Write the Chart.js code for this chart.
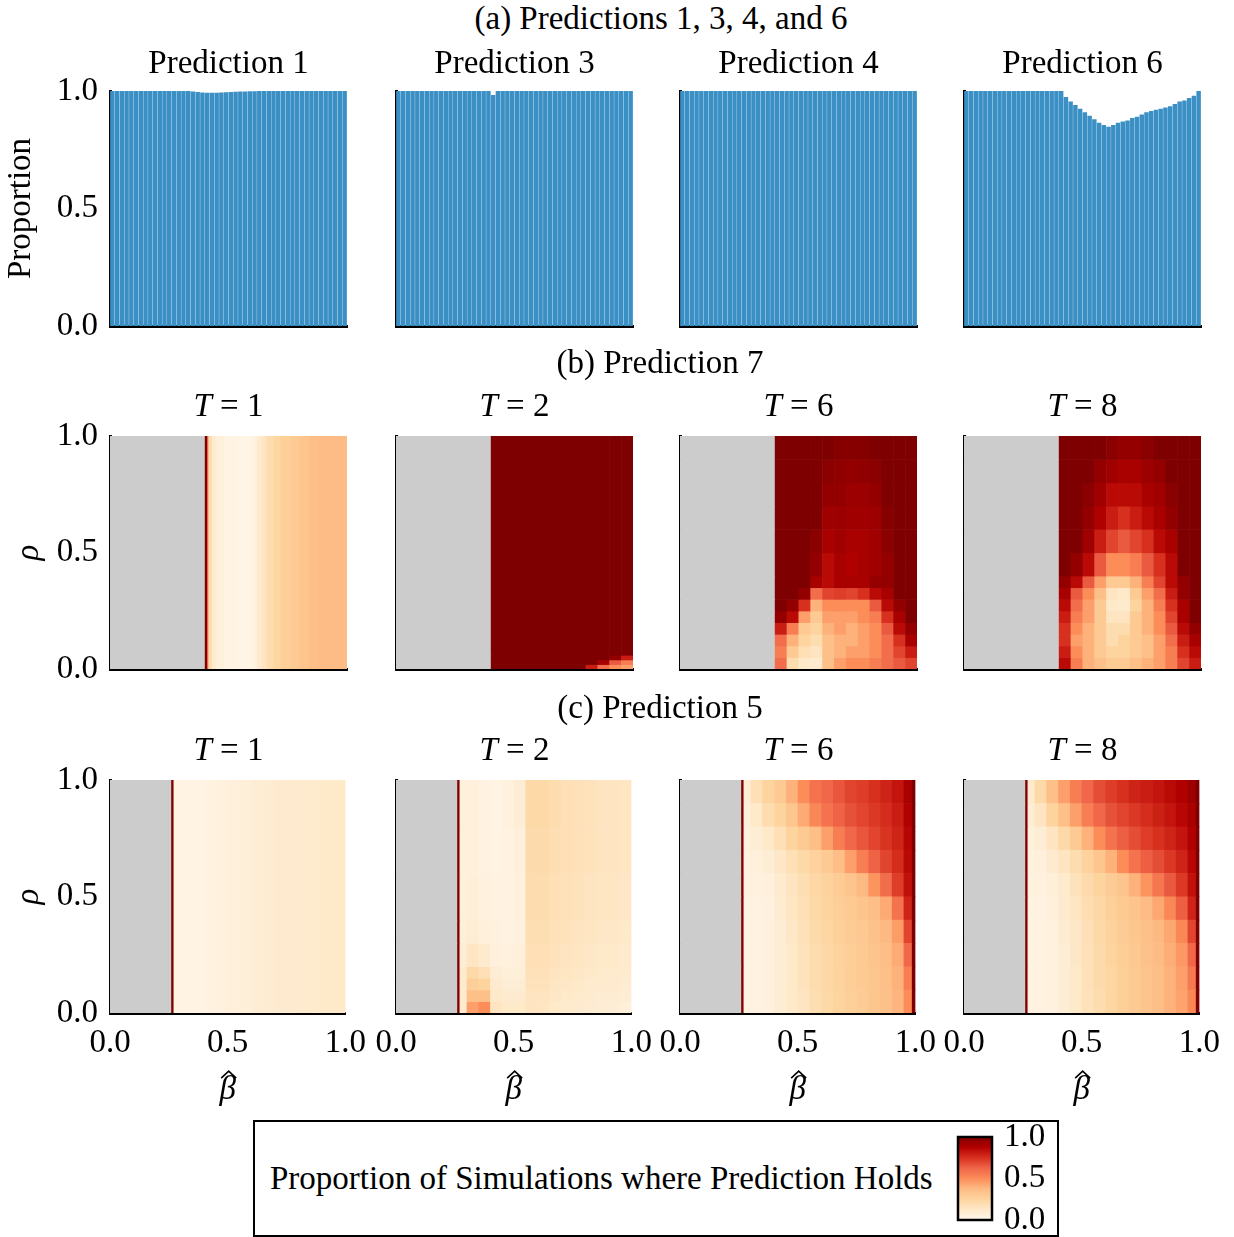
<!DOCTYPE html>
<html>
<head>
<meta charset="utf-8">
<script src="https://cdn.jsdelivr.net/npm/chart.js@4.4.1/dist/chart.umd.min.js"></script>
<style>
body{margin:0;background:#fff;width:1234px;height:1237px;overflow:hidden;position:relative;font-family:'Liberation Serif',serif;}
canvas{position:absolute;}
.lbl{position:absolute;font-size:33px;line-height:36px;white-space:nowrap;transform:translateX(-50%);color:#000;}
#legend{position:absolute;left:253px;top:1120px;width:802px;height:113px;border:2px solid #000;}
#legendText{position:absolute;left:270px;top:1160px;font-size:33px;line-height:36px;white-space:nowrap;}
</style>
</head>
<body>
<div id="legend"></div>
<div id="legendText">Proportion of Simulations where Prediction Holds</div>

<script>
// ---- data ----
// bar centres on beta-hat (row a)
const betaCenters = ['0.01','0.03','0.05','0.07','0.09','0.11','0.13','0.15','0.17','0.19',
  '0.21','0.23','0.25','0.27','0.29','0.31','0.33','0.35','0.37','0.39',
  '0.41','0.43','0.45','0.47','0.49','0.51','0.53','0.55','0.57','0.59',
  '0.61','0.63','0.65','0.67','0.69','0.71','0.73','0.75','0.77','0.79',
  '0.81','0.83','0.85','0.87','0.89','0.91','0.93','0.95','0.97','0.99'];

const pred1 = [1,1,1,1,1,1,1,1,1,1, 1,1,1,1,1,1,1,0.998,0.996,0.994,
  0.993,0.993,0.993,0.994,0.995,0.996,0.997,0.998,0.998,0.999,
  0.999,1,1,1,1,1,1,1,1,1, 1,1,1,1,1,1,1,1,1,1];
const pred3 = [1,1,1,1,1,1,1,1,1,1, 1,1,1,1,1,1,1,1,1,1,
  0.983,1,1,1,1,1,1,1,1,1, 1,1,1,1,1,1,1,1,1,1, 1,1,1,1,1,1,1,1,1,1];
const pred4 = [1,1,1,1,1,1,1,1,1,1, 1,1,1,1,1,1,1,1,1,1,
  1,1,1,1,1,1,1,1,1,1, 1,1,1,1,1,1,1,1,1,1, 1,1,1,1,1,1,1,1,1,1];
const pred6 = [1,1,1,1,1,1,1,1,1,1, 1,1,1,1,1,1,1,1,1,1,
  1,0.975,0.955,0.94,0.925,0.91,0.895,0.88,0.865,0.855,
  0.848,0.855,0.865,0.87,0.875,0.885,0.89,0.9,0.91,0.915,
  0.92,0.925,0.93,0.935,0.945,0.955,0.96,0.97,0.98,1.0];

// row b : Prediction 7  (null = not applicable, drawn grey)
const rhoAll = [0, 1];
const b1Beta = [0,0.40,0.41,0.415,0.43,0.45,0.48,0.54,0.60,0.62,0.64,0.66,0.69,0.72,0.76,0.80,0.84,0.88,1.0];
const b1Vals = [[null,1.0,0.6,0.2,0.09,0.06,0.03,0.02,0.05,0.1,0.15,0.2,0.24,0.27,0.3,0.33,0.36,0.37]];

const b2Beta = [0,0.40,0.80,0.85,0.90,0.95,1.0];
const b2Rho = [0,0.02,0.04,0.06,1.0];
const b2Vals = [
  [null,1,0.8,0.6,0.5,0.45],
  [null,1,1,0.9,0.65,0.55],
  [null,1,1,1,0.95,0.8],
  [null,1,1,1,1,1]];

const bBeta = [0,0.40,0.45,0.5,0.55,0.6,0.65,0.7,0.75,0.8,0.85,0.9,0.95,1.0];
const bRho = [0,0.05,0.1,0.15,0.2,0.25,0.3,0.35,0.4,0.5,0.6,0.7,0.8,0.9,1.0];
const b6Vals = [
  [null,0.6,0.2,0.12,0.1,0.35,0.45,0.5,0.5,0.55,0.6,0.65,0.7],
  [null,0.55,0.3,0.18,0.15,0.35,0.4,0.45,0.45,0.5,0.6,0.7,0.8],
  [null,0.6,0.4,0.25,0.2,0.35,0.4,0.4,0.45,0.5,0.6,0.75,0.9],
  [null,0.8,0.55,0.3,0.25,0.4,0.45,0.4,0.45,0.5,0.65,0.85,0.95],
  [null,0.95,0.85,0.45,0.3,0.45,0.45,0.45,0.5,0.55,0.75,0.9,1.0],
  [null,1.0,0.95,0.75,0.4,0.5,0.5,0.5,0.5,0.65,0.85,0.95,1.0],
  [null,1.0,1.0,0.95,0.6,0.7,0.72,0.7,0.75,0.85,0.9,1.0,1.0],
  [null,1.0,1.0,1.0,0.9,0.85,0.9,0.9,0.9,0.95,0.95,1.0,1.0],
  [null,1.0,1.0,1.0,0.95,0.85,0.9,0.88,0.9,0.92,0.95,1.0,1.0],
  [null,1.0,1.0,1.0,0.97,0.9,0.92,0.9,0.9,0.92,0.97,1.0,1.0],
  [null,1.0,1.0,1.0,1.0,0.92,0.93,0.92,0.92,0.93,0.98,1.0,1.0],
  [null,1.0,1.0,1.0,1.0,0.95,0.95,0.93,0.93,0.95,1.0,1.0,1.0],
  [null,1.0,1.0,1.0,1.0,0.97,0.96,0.95,0.96,0.97,1.0,1.0,1.0],
  [null,1.0,1.0,1.0,1.0,1.0,0.98,0.98,0.98,1.0,1.0,1.0,1.0]];
const b8Vals = [
  [null,0.85,0.55,0.4,0.35,0.3,0.3,0.35,0.4,0.45,0.55,0.7,0.8],
  [null,0.8,0.5,0.4,0.3,0.25,0.25,0.3,0.35,0.45,0.55,0.75,0.85],
  [null,0.75,0.45,0.4,0.3,0.2,0.25,0.3,0.35,0.45,0.6,0.8,0.9],
  [null,0.75,0.5,0.4,0.3,0.2,0.2,0.3,0.4,0.5,0.65,0.85,0.95],
  [null,0.8,0.55,0.45,0.3,0.15,0.15,0.3,0.4,0.5,0.7,0.9,1.0],
  [null,0.85,0.6,0.45,0.3,0.12,0.1,0.25,0.4,0.55,0.75,0.9,1.0],
  [null,0.9,0.65,0.5,0.35,0.15,0.12,0.3,0.45,0.6,0.8,0.95,1.0],
  [null,0.95,0.85,0.65,0.45,0.3,0.3,0.4,0.55,0.7,0.85,0.95,1.0],
  [null,1.0,0.95,0.85,0.65,0.5,0.5,0.55,0.65,0.75,0.85,1.0,1.0],
  [null,1.0,1.0,0.92,0.8,0.7,0.65,0.7,0.75,0.85,0.9,1.0,1.0],
  [null,1.0,1.0,0.95,0.88,0.8,0.75,0.8,0.85,0.9,0.95,1.0,1.0],
  [null,1.0,1.0,0.97,0.92,0.85,0.85,0.85,0.9,0.92,0.97,1.0,1.0],
  [null,1.0,1.0,1.0,0.95,0.92,0.9,0.9,0.93,0.95,1.0,1.0,1.0],
  [null,1.0,1.0,1.0,1.0,0.97,0.95,0.95,0.97,1.0,1.0,1.0,1.0]];

// row c : Prediction 5
const cBeta = [0,0.26,0.27,0.3,0.35,0.4,0.45,0.5,0.55,0.6,0.65,0.7,0.75,0.8,0.85,0.9,0.95,0.985,1.0];
const c1Vals = [[null,1,0.03,0.03,0.03,0.04,0.05,0.06,0.07,0.08,0.09,0.1,0.1,0.11,0.11,0.12,0.12,0.12]];

const c2Rho = [0,0.05,0.1,0.15,0.2,0.3,0.4,0.6,0.8,1.0];
const c2Vals = [
  [null,1,0.1,0.45,0.5,0.15,0.12,0.12,0.15,0.14,0.12,0.11,0.1,0.09,0.08,0.08,0.07,0.07],
  [null,1,0.1,0.35,0.35,0.12,0.1,0.1,0.15,0.15,0.13,0.12,0.11,0.1,0.09,0.09,0.08,0.08],
  [null,1,0.1,0.28,0.25,0.1,0.08,0.08,0.16,0.16,0.14,0.13,0.12,0.11,0.1,0.1,0.09,0.09],
  [null,1,0.1,0.22,0.18,0.08,0.07,0.07,0.17,0.17,0.15,0.14,0.13,0.12,0.11,0.11,0.1,0.1],
  [null,1,0.08,0.14,0.1,0.06,0.05,0.06,0.18,0.18,0.16,0.15,0.14,0.13,0.12,0.12,0.11,0.11],
  [null,1,0.07,0.08,0.06,0.05,0.04,0.05,0.19,0.19,0.17,0.16,0.15,0.14,0.13,0.13,0.12,0.12],
  [null,1,0.06,0.07,0.05,0.04,0.04,0.05,0.2,0.2,0.18,0.17,0.16,0.15,0.14,0.14,0.13,0.13],
  [null,1,0.06,0.06,0.04,0.03,0.04,0.06,0.21,0.21,0.19,0.18,0.17,0.16,0.15,0.15,0.14,0.14],
  [null,1,0.06,0.06,0.04,0.03,0.05,0.08,0.22,0.22,0.2,0.18,0.17,0.16,0.15,0.15,0.14,0.14]];

// rows listed from rho = 1 down to rho = 0
const cRho = [1.0,0.9,0.8,0.7,0.6,0.5,0.4,0.3,0.2,0.1,0];
const c6Vals = [
  [null,1,0.08,0.18,0.25,0.3,0.4,0.5,0.58,0.62,0.66,0.7,0.72,0.75,0.78,0.82,0.9,1.0],
  [null,1,0.07,0.12,0.2,0.25,0.32,0.42,0.52,0.58,0.63,0.67,0.7,0.73,0.76,0.8,0.88,1.0],
  [null,1,0.06,0.08,0.12,0.18,0.25,0.3,0.36,0.45,0.55,0.62,0.66,0.7,0.74,0.78,0.86,1.0],
  [null,1,0.05,0.06,0.08,0.13,0.18,0.22,0.26,0.3,0.36,0.45,0.55,0.63,0.7,0.76,0.85,1.0],
  [null,1,0.05,0.05,0.06,0.1,0.15,0.19,0.23,0.26,0.29,0.33,0.38,0.48,0.6,0.72,0.83,1.0],
  [null,1,0.04,0.04,0.05,0.09,0.14,0.18,0.22,0.25,0.28,0.3,0.33,0.36,0.42,0.58,0.78,1.0],
  [null,1,0.04,0.04,0.05,0.08,0.13,0.17,0.21,0.24,0.27,0.29,0.31,0.34,0.38,0.46,0.7,1.0],
  [null,1,0.04,0.04,0.05,0.08,0.12,0.16,0.2,0.23,0.26,0.28,0.3,0.33,0.36,0.42,0.62,1.0],
  [null,1,0.04,0.04,0.05,0.08,0.12,0.16,0.2,0.23,0.25,0.28,0.3,0.32,0.35,0.4,0.55,1.0],
  [null,1,0.04,0.04,0.05,0.08,0.12,0.15,0.19,0.22,0.25,0.27,0.29,0.32,0.35,0.39,0.5,1.0]];
const c8Vals = [
  [null,1,0.1,0.22,0.35,0.45,0.55,0.62,0.68,0.72,0.75,0.78,0.8,0.82,0.85,0.88,0.93,1.0],
  [null,1,0.08,0.15,0.25,0.35,0.45,0.55,0.62,0.67,0.7,0.73,0.76,0.79,0.82,0.86,0.9,1.0],
  [null,1,0.06,0.08,0.15,0.22,0.3,0.4,0.5,0.58,0.64,0.68,0.72,0.75,0.78,0.82,0.88,1.0],
  [null,1,0.05,0.06,0.1,0.15,0.2,0.26,0.32,0.4,0.5,0.58,0.64,0.68,0.73,0.78,0.86,1.0],
  [null,1,0.05,0.05,0.07,0.11,0.16,0.21,0.25,0.29,0.33,0.4,0.48,0.57,0.65,0.73,0.83,1.0],
  [null,1,0.04,0.04,0.06,0.1,0.14,0.19,0.23,0.27,0.3,0.33,0.37,0.43,0.52,0.64,0.78,1.0],
  [null,1,0.04,0.04,0.05,0.09,0.13,0.18,0.22,0.26,0.29,0.32,0.35,0.38,0.43,0.52,0.7,1.0],
  [null,1,0.04,0.04,0.05,0.08,0.13,0.17,0.21,0.25,0.28,0.31,0.34,0.37,0.41,0.47,0.62,1.0],
  [null,1,0.04,0.04,0.05,0.08,0.12,0.17,0.21,0.24,0.27,0.3,0.33,0.36,0.4,0.45,0.56,1.0],
  [null,1,0.04,0.04,0.05,0.08,0.12,0.16,0.2,0.24,0.27,0.3,0.33,0.36,0.4,0.44,0.52,1.0]];

const OR_RD = ['#fff7ec','#fee8c8','#fdd49e','#fdbb84','#fc8d59','#ef6548','#d7301f','#b30000','#7f0000'];
const GRAY = '#cccccc';
const BLUE = '#3a8fc4';

// ---- helpers ----
const FS = 33;
Chart.defaults.font.family = "'Liberation Serif', serif";
Chart.defaults.font.size = FS;
Chart.defaults.color = '#000';

function hex(h){ return [parseInt(h.slice(1,3),16),parseInt(h.slice(3,5),16),parseInt(h.slice(5,7),16)]; }
function orRd(v){
  v = Math.max(0, Math.min(1, v));
  const t = v*8, i = Math.min(7, Math.floor(t)), f = t - i;
  const a = hex(OR_RD[i]), b = hex(OR_RD[i+1]);
  return 'rgb(' + a.map((x,k) => Math.round(x + (b[k]-x)*f)).join(',') + ')';
}

function makeCanvas(left, top, w, h){
  const c = document.createElement('canvas');
  c.width = w; c.height = h;
  c.style.left = left + 'px'; c.style.top = top + 'px';
  document.body.appendChild(c);
  return c;
}

function label(html, x, y){
  const d = document.createElement('div');
  d.className = 'lbl';
  d.innerHTML = html;
  d.style.left = x + 'px';
  d.style.top = (y - 18) + 'px';
  document.body.appendChild(d);
}

// draws the heat map cells through the chart's x/y scales
function heatLayer(xEdges, yEdges, values){
  return {
    id: 'heat',
    beforeDatasetsDraw(chart){
      const {ctx, chartArea} = chart;
      const xs = chart.scales.x, ys = chart.scales.y;
      ctx.save();
      ctx.beginPath();
      ctx.rect(chartArea.left, chartArea.top, chartArea.width, chartArea.height);
      ctx.clip();
      values.forEach((row, r) => {
        const y0 = ys.getPixelForValue(yEdges[r]), y1 = ys.getPixelForValue(yEdges[r+1]);
        row.forEach((v, c) => {
          const x0 = xs.getPixelForValue(xEdges[c]), x1 = xs.getPixelForValue(xEdges[c+1]);
          ctx.fillStyle = v === null ? GRAY : orRd(v);
          ctx.fillRect(x0, Math.min(y0,y1), x1 - x0 + 0.6, Math.abs(y1 - y0) + 0.6);
        });
      });
      ctx.restore();
    }
  };
}

// the hat accent over the beta axis title
const hatAccent = {
  id: 'hat',
  afterDraw(chart){
    const xs = chart.scales.x;
    if (!xs.options.title.display) return;
    const cx = (xs.left + xs.right) / 2 + 1;
    const cy = xs.bottom - FS * 1.2 / 2;
    const ctx = chart.ctx;
    ctx.save();
    ctx.strokeStyle = '#000';
    ctx.lineWidth = 1.6;
    ctx.beginPath();
    ctx.moveTo(cx - 7.5, cy - 12);
    ctx.lineTo(cx, cy - 19);
    ctx.lineTo(cx + 7.5, cy - 12);
    ctx.stroke();
    ctx.restore();
  }
};

const plotLefts = [110, 396, 680, 964];
const PW = 237, YW = 110, PADR = 30, PADT = 40, PADB = 40;
const spine = {display:true, color:'#000', width:3};
const tickFmt = v => v.toFixed(1);

function yScale(show, title, italic, tpad){
  return {
    min:0, max:1, z:1,
    afterFit: s => { s.width = YW; },
    grid:{display:false, drawTicks:false},
    border: spine,
    ticks:{display:show, stepSize:0.5, padding:12, callback:tickFmt},
    title:{display:show, text:title, padding:{top:tpad, bottom:0}, font:{style: italic ? 'italic' : 'normal'}}
  };
}

function baseOpts(padBottom){
  return {
    responsive:false, animation:false, events:[], devicePixelRatio:1,
    layout:{padding:{top:PADT, right:PADR, bottom:padBottom, left:0}},
    plugins:{legend:{display:false}, tooltip:{enabled:false}}
  };
}

// ---- row a: bar panels ----
function barPanel(col, vals){
  const top = 91, h = 235;
  const cv = makeCanvas(plotLefts[col] - YW, top - PADT, YW + PW + PADR, PADT + h + 4 + PADB);
  const opts = baseOpts(PADB);
  opts.scales = {
    x:{type:'category', z:1, afterFit: s => { s.height = 4; },
       grid:{display:false, drawTicks:false}, border: spine, ticks:{display:false}},
    y: yScale(col === 0, 'Proportion', false, 2)
  };
  new Chart(cv, {
    type:'bar',
    data:{labels:betaCenters, datasets:[{data:vals, backgroundColor:BLUE, borderWidth:0,
      barPercentage:0.94, categoryPercentage:1}]},
    options: opts
  });
}

// ---- rows b, c: heat panels ----
function heatPanel(col, top, bottomRow, xEdges, yEdges, values){
  const h = 233, xh = bottomRow ? 97 : 4, pb = bottomRow ? 10 : PADB;
  const cv = makeCanvas(plotLefts[col] - YW, top - PADT, YW + PW + PADR, PADT + h + xh + pb);
  const opts = baseOpts(pb);
  opts.scales = {
    x:{type:'linear', min:0, max:1, z:1, afterFit: s => { s.height = xh; },
       grid:{display:false, drawTicks:false}, border: spine,
       ticks:{display:bottomRow, stepSize:0.5, padding:11, maxRotation:0, callback:tickFmt},
       title:{display:bottomRow, text:'\u03B2', padding:{top:0, bottom:0}, font:{style:'italic'}}},
    y: yScale(col === 0, '\u03C1', true, 10)
  };
  new Chart(cv, {
    type:'scatter',
    data:{datasets:[]},
    options: opts,
    plugins:[heatLayer(xEdges, yEdges, values), hatAccent]
  });
}

barPanel(0, pred1);
barPanel(1, pred3);
barPanel(2, pred4);
barPanel(3, pred6);

heatPanel(0, 436, false, b1Beta, rhoAll, b1Vals);
heatPanel(1, 436, false, b2Beta, b2Rho, b2Vals);
heatPanel(2, 436, false, bBeta, bRho, b6Vals);
heatPanel(3, 436, false, bBeta, bRho, b8Vals);

heatPanel(0, 780, true, cBeta, rhoAll, c1Vals);
heatPanel(1, 780, true, cBeta, c2Rho, c2Vals);
heatPanel(2, 780, true, cBeta, cRho, c6Vals);
heatPanel(3, 780, true, cBeta, cRho, c8Vals);

// ---- colour bar ----
const CBT = 40;
const cbCanvas = makeCanvas(948, 1137 - CBT, 104, CBT + 83 + CBT);
new Chart(cbCanvas, {
  type:'scatter',
  data:{datasets:[]},
  options:{
    responsive:false, animation:false, events:[], devicePixelRatio:1,
    layout:{padding:{top:CBT, right:0, bottom:CBT, left:10}},
    plugins:{legend:{display:false}, tooltip:{enabled:false}},
    scales:{
      x:{display:false, min:0, max:1},
      y:{position:'right', min:0, max:1, afterFit: s => { s.width = 60; },
         grid:{display:false, drawTicks:false}, border:{display:false},
         ticks:{stepSize:0.5, padding:12, autoSkip:false, callback:tickFmt}}
    }
  },
  plugins:[{
    id:'cbar',
    beforeDatasetsDraw(chart){
      const {ctx, chartArea} = chart;
      const ys = chart.scales.y;
      const g = ctx.createLinearGradient(0, ys.getPixelForValue(0), 0, ys.getPixelForValue(1));
      OR_RD.forEach((c, i) => g.addColorStop(i / (OR_RD.length - 1), c));
      ctx.save();
      ctx.fillStyle = g;
      ctx.fillRect(chartArea.left, chartArea.top, chartArea.width, chartArea.height);
      ctx.lineWidth = 2.5;
      ctx.strokeStyle = '#000';
      ctx.strokeRect(chartArea.left, chartArea.top, chartArea.width, chartArea.height);
      ctx.restore();
    }
  }]
});

// ---- headings ----
const centres = plotLefts.map(l => l + PW / 2);
label('(a) Predictions 1, 3, 4, and 6', 661, 18);
['Prediction 1','Prediction 3','Prediction 4','Prediction 6'].forEach((t, i) => label(t, centres[i], 62));
label('(b) Prediction 7', 660, 362);
label('(c) Prediction 5', 660, 707);
const tValues = ['1','2','6','8'];
tValues.forEach((t, i) => {
  label('<i>T</i> = ' + t, centres[i], 405);
  label('<i>T</i> = ' + t, centres[i], 749);
});
</script>
</body>
</html>
